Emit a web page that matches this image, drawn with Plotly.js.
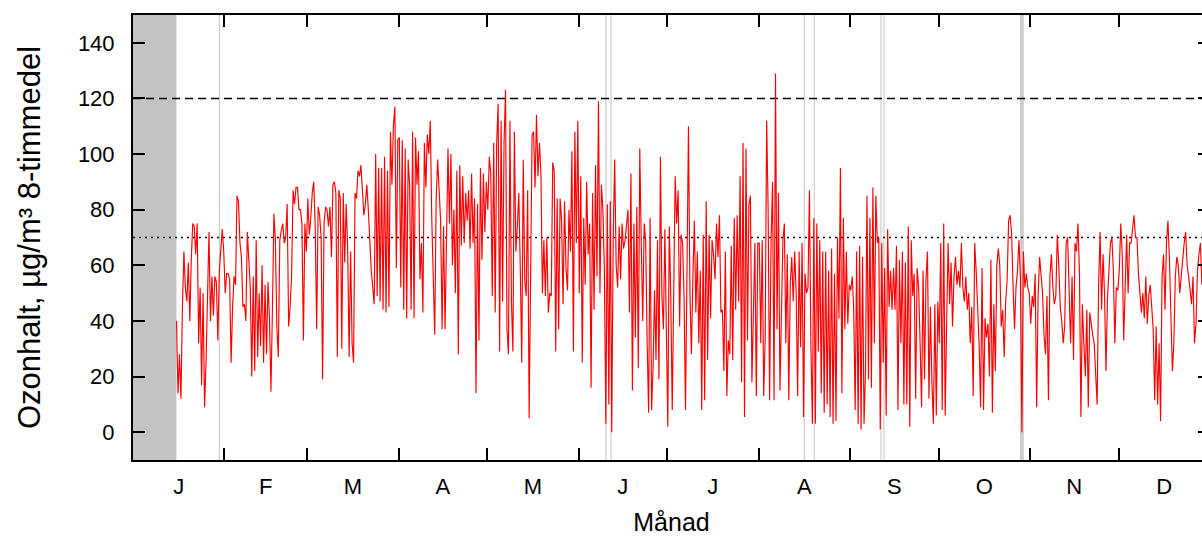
<!DOCTYPE html>
<html>
<head>
<meta charset="utf-8">
<script src="https://cdn.plot.ly/plotly-3.0.1.min.js"></script>
<style>
html,body{margin:0;padding:0;overflow:hidden;background:#fff}
#chart{width:1214px;height:537px}
</style>
</head>
<body>
<div id="chart"></div>
<script>
// ---- Axis / category data ----
const monthStarts = ['2019-01-01','2019-02-01','2019-03-01','2019-04-01','2019-05-01','2019-06-01',
                     '2019-07-01','2019-08-01','2019-09-01','2019-10-01','2019-11-01','2019-12-01','2020-01-01'];
const monthLabels = ['J','F','M','A','M','J','J','A','S','O','N','D'];
const yTicks = [0,20,40,60,80,100,120,140];
const thresholds = [120, 70];          // dashed, dotted reference levels

// ---- Ozone 8-hour means (µg/m³), one value every 12 h ----
const firstSample = '2019-01-15 18:00'; // data start (January); other months start day 1 06:00
const stepHours = 12;
const jan = [40,14,28,12,45,65,52,47,61,40, 62,75,74,64,75,32,52,17,50,9, 25,50,72,40,56,42,56,54,33,58, 68,73,65];
const feb = [50,57,57,55,25,45,56,53,85,83, 68,63,45,46,40,72,62,52,20,56, 22,69,27,50,31,60,25,53,28,54,
             41,14.5,44,78.5,69,38,27,69,72.5,75, 68,70,82,38,45,56,87,82,88,88, 80,80,75,33,75,65];
const mar = [84,71,77,86,90,74,37,81,78,70, 19,75,81,80,74,81,63,89,90,86, 27,87,84,30,86,61,82,66,27,65,
             32,25,86,84,94,92,96,85,78,82, 89,80,68,58,52,46,100,49,95,47, 95,44,99,43,94,45,108,89,110,117, 59,105];
const apr = [106,52,105,44,102,41,98,89,44,108, 41,106,89,101,55,68,43,104,88,107, 100,112,77,51,35,84,98,87,76,37,
             74,37,68,102,75,100,60,80,50,94, 28,96,67,92,68,86,76,87,66,93, 68,84,14,82,33,95,62,93,72,90];
const may = [80,99,93,49,104,43,104,118,29,112, 47,104,123,37,28,112,47,29,108,65, 74,86,59,25,98,55,49,87,5,63,
             107,108,88,114,92,104,93,50,69,49, 70,43,50,49,97,94,29,84,37,84, 76,46,83,59,51,80,65,101,29,108, 68,112];
const jun = [50,92,25,77,53,90,64,75,16,86, 44,96,56,119,50,89,80,58,3,82, 10,83,0,71,98,60,52,74,55,75,
             66,69,74,80,43,93,15,75,34,81, 23,102,68,40,75,69,32,7,77,8, 23,51,26,69,19,99,49,37,73,32];
const jul = [2,74,49,8,51,92,75,87,38,71, 68,49,8,69,110,50,28,56,76,43, 65,32,58,8,71,11.5,83,26,71,41,
             69,64,55,75,63,78,43,44,22,65, 13,33,28,67,26,77,44,78,47,92, 18,104,5.5,102,33,82,85,18,38,68, 13,68];
const aug = [68,32,69,13,34,112,80,11.5,69,90, 11.5,129,37,86,15,39,69,75,32,64, 11.5,53,63,47,65,50,13,65,30.5,68,
             5.5,57,50,52,87,30.5,3,77,3,75, 29,69,14,65,7,65,10,58,5.5,66, 3,57,4,70,41,95,14,77,37,65, 39,53];
const sep = [51,56,44,8,65,3,67,1,63,3, 22,85,19,77,16,88,32,85,68,70, 1,68,25,59,6,73,45,58,44,59,
             44,67,8,62,32,65,10,61,10,74, 2,69,49,57,12,59,52,32,9,58, 19,55,65,12,45,18,3,46,6,47];
const oct = [32,68,8,75,6,40,68,46,61,38, 56,63,53,58,52,68,52,47,56,44, 50,32,45,13,68,58,47,32,9,59,
             8,41,34,39,20,62,7,46,22,60, 66,60,38,44,27,47,55,76,78,72, 53,37,52,58,69,56,0,65,52,57, 52,50];
const nov = [39,49,45,57,9,49,63,56,50,35, 28,49,11.5,56,64,52,46,49,71,60, 45,40,32,38,68,70,53,32,56,26,
             68,65,75,58,5.5,46,32,20,44,9, 43,38,35,32,20,10,53,72,44,64, 50,22,48,58,68,70,58,32,52,51];
const dec = [58,75,64,33,49,71,50,68,68,72, 78,70,70,57,49,43,50,41,56,39, 49,53,45,37,11.5,38,10,32,4,56,
             64,44,68,76,62,40,22,32,56,63, 60,50,56,64,68,72,60,56,50,46, 56,32,39,58,64,68,53];
const monthlySeries = [jan,feb,mar,apr,may,jun,jul,aug,sep,oct,nov,dec];

// ---- Periods without valid data (grey marks) ----
const gapStart = ['2019-01-01 00:00','2019-01-30 02:00','2019-06-10 02:00','2019-06-11 19:00','2019-08-16 07:00',
                  '2019-08-19 17:00','2019-09-11 07:00','2019-09-12 07:00','2019-10-28 14:00'];
const gapEnd   = ['2019-01-15 17:00','2019-01-30 12:00','2019-06-10 12:00','2019-06-12 05:00','2019-08-16 17:00',
                  '2019-08-20 02:00','2019-09-11 17:00','2019-09-12 17:00','2019-10-29 22:00'];

// ---- helpers ----
const H = 3600000;
function parse(s){const [d,t]=s.split(' ');const [Y,M,D]=d.split('-').map(Number);
  const [h,mi]=(t||'00:00').split(':').map(Number);return Date.UTC(Y,M-1,D,h,mi);}
function fmt(ms){const d=new Date(ms);const p=n=>String(n).padStart(2,'0');
  return d.getUTCFullYear()+'-'+p(d.getUTCMonth()+1)+'-'+p(d.getUTCDate())+' '+p(d.getUTCHours())+':'+p(d.getUTCMinutes());}

const xs=[], ys=[];
monthlySeries.forEach((arr,m)=>{
  const start = m===0 ? parse(firstSample) : parse(monthStarts[m]) + 6*H;
  arr.forEach((v,i)=>{ xs.push(fmt(start + i*stepHours*H)); ys.push(v); });
});
const monthMids = monthLabels.map((_,m)=>fmt((parse(monthStarts[m])+parse(monthStarts[m+1]))/2));
const xRange = [monthStarts[0], monthStarts[12]];

const shapes = [];
gapStart.forEach((s,i)=>{
  shapes.push({type:'rect', xref:'x', yref:'paper', x0:s, x1:gapEnd[i], y0:0, y1:1,
    fillcolor: i===0 ? '#c3c3c3' : '#cdcdcd', line:{width:0}, layer:'below'});
});
shapes.push({type:'line', xref:'paper', yref:'y', x0:0, x1:1, y0:thresholds[0], y1:thresholds[0],
  line:{color:'#000', width:1.4, dash:'8px,5px'}, layer:'below'});
shapes.push({type:'line', xref:'paper', yref:'y', x0:0, x1:1, y0:thresholds[1], y1:thresholds[1],
  line:{color:'#000', width:1.6, dash:'2px,4px'}, layer:'below'});

const font = 'Arial, "Liberation Sans", sans-serif';
const data = [
  {type:'scatter', mode:'lines', x:xs, y:ys, line:{color:'#ff0000', width:1.15}, hoverinfo:'skip', showlegend:false},
  {type:'scatter', mode:'lines', x:[], y:[], xaxis:'x2', yaxis:'y', hoverinfo:'skip', showlegend:false}
];
const layout = {
  width:1214, height:537,
  margin:{l:133, r:4, t:15, b:77, pad:0},
  paper_bgcolor:'#fff', plot_bgcolor:'#fff', showlegend:false,
  font:{family:font, color:'#000', size:22},
  xaxis:{type:'date', range:xRange, tickmode:'array', tickvals:monthStarts, ticktext:monthStarts.map(()=>''),
    ticks:'inside', ticklen:12, tickwidth:2, tickcolor:'#000', showline:true, linewidth:2, linecolor:'#000',
    mirror:'ticks', showgrid:false, zeroline:false},
  xaxis2:{type:'date', overlaying:'x', anchor:'y', side:'bottom', range:xRange, tickmode:'array',
    tickvals:monthMids, ticktext:monthLabels, ticks:'', showline:false, showgrid:false, zeroline:false,
    tickfont:{family:font, size:22, color:'#000'}, ticklabelstandoff:11,
    title:{text:'Månad', font:{family:font, size:25, color:'#000'}, standoff:15}},
  yaxis:{range:[-10,150], tickmode:'array', tickvals:yTicks, ticks:'inside', ticklen:12, tickwidth:2,
    tickcolor:'#000', showline:true, linewidth:2, linecolor:'#000', mirror:'ticks', showgrid:false, zeroline:false,
    tickfont:{family:font, size:22, color:'#000'}, ticklabelstandoff:12,
    title:{text:'Ozonhalt, µg/m³ 8-timmedel', font:{family:font, size:31, color:'#000'}, standoff:28}},
  shapes:shapes
};
Plotly.newPlot('chart', data, layout, {displayModeBar:false, staticPlot:true});
</script>
</body>
</html>
